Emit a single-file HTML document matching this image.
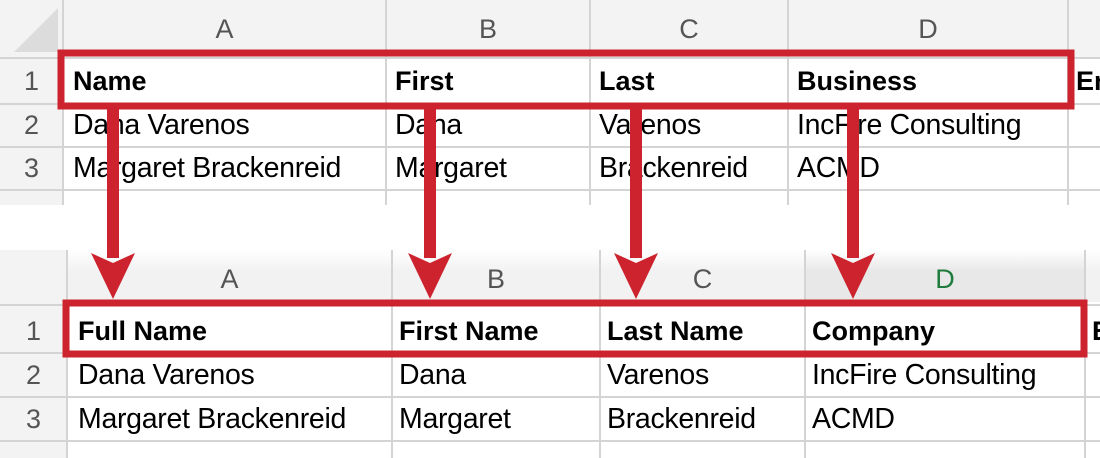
<!DOCTYPE html><html><head><style>
body{margin:0;width:1100px;height:458px;overflow:hidden;background:#fff;font-family:"Liberation Sans",sans-serif;position:relative}
.a{position:absolute}
.t{position:absolute;font-size:28.5px;color:#000;white-space:nowrap;line-height:30px;letter-spacing:-0.3px}
.b{font-weight:bold;font-size:27px;letter-spacing:0}
.h{position:absolute;font-size:27px;color:#555;text-align:center;line-height:30px}
</style></head><body>
<div class="a" style="left:0;top:0;width:1100px;height:58px;background:#f3f3f3"></div>
<div class="a" style="left:0;top:0;width:63px;height:205px;background:#f3f3f3"></div>
<svg class="a" style="left:0;top:0" width="1100" height="458">
<polygon points="14,52 58,52 58,8" fill="#dcdcdc"/>
<g stroke="#d4d4d4" stroke-width="2">
<line x1="63" y1="0" x2="63" y2="205"/><line x1="386" y1="0" x2="386" y2="205"/><line x1="590" y1="0" x2="590" y2="205"/><line x1="788" y1="0" x2="788" y2="205"/><line x1="1068" y1="0" x2="1068" y2="205"/>
<line x1="0" y1="58" x2="1100" y2="58"/><line x1="0" y1="104" x2="1100" y2="104"/><line x1="0" y1="147" x2="1100" y2="147"/><line x1="0" y1="190" x2="1100" y2="190"/>
</g>
</svg>
<div class="h" style="left:63px;top:14px;width:323px">A</div>
<div class="h" style="left:386px;top:14px;width:204px">B</div>
<div class="h" style="left:590px;top:14px;width:198px">C</div>
<div class="h" style="left:788px;top:14px;width:280px">D</div>
<div class="h" style="left:0;top:66px;width:63px">1</div>
<div class="h" style="left:0;top:110px;width:63px">2</div>
<div class="h" style="left:0;top:153px;width:63px">3</div>
<div class="t b" style="left:73px;top:66px">Name</div>
<div class="t b" style="left:395px;top:66px">First</div>
<div class="t b" style="left:599px;top:66px">Last</div>
<div class="t b" style="left:797px;top:66px">Business</div>
<div class="t b" style="left:1076px;top:66px">Er</div>
<div class="t" style="left:73px;top:110px">Dana Varenos</div>
<div class="t" style="left:395px;top:110px">Dana</div>
<div class="t" style="left:599px;top:110px">Varenos</div>
<div class="t" style="left:797px;top:110px">IncFire Consulting</div>
<div class="t" style="left:73px;top:153px">Margaret Brackenreid</div>
<div class="t" style="left:395px;top:153px">Margaret</div>
<div class="t" style="left:599px;top:153px">Brackenreid</div>
<div class="t" style="left:797px;top:153px">ACMD</div>
<div class="a" style="left:0;top:205px;width:1100px;height:253px;background:#fff"></div>
<div class="a" style="left:0;top:250px;width:1100px;height:52px;background:linear-gradient(#fff,#f2f2f2 40%)"></div>
<div class="a" style="left:805px;top:250px;width:280px;height:52px;background:linear-gradient(#fff,#e8e8e8 40%)"></div>
<div class="a" style="left:0;top:250px;width:67px;height:208px;background:#f3f3f3"></div>
<svg class="a" style="left:0;top:0" width="1100" height="458">
<g stroke="#d4d4d4" stroke-width="2">
<line x1="67" y1="250" x2="67" y2="458"/><line x1="392" y1="250" x2="392" y2="458"/><line x1="600" y1="250" x2="600" y2="458"/><line x1="805" y1="250" x2="805" y2="458"/><line x1="1085" y1="250" x2="1085" y2="458"/>
<line x1="0" y1="305" x2="1100" y2="305"/><line x1="0" y1="353" x2="1100" y2="353"/><line x1="0" y1="397" x2="1100" y2="397"/><line x1="0" y1="441" x2="1100" y2="441"/>
</g>
</svg>
<div class="h" style="left:67px;top:264px;width:325px">A</div>
<div class="h" style="left:392px;top:264px;width:208px">B</div>
<div class="h" style="left:600px;top:264px;width:205px">C</div>
<div class="h" style="left:805px;top:264px;width:280px;color:#1e7b3c">D</div>
<div class="h" style="left:0;top:316px;width:67px">1</div>
<div class="h" style="left:0;top:360px;width:67px">2</div>
<div class="h" style="left:0;top:404px;width:67px">3</div>
<div class="t b" style="left:78px;top:316px">Full Name</div>
<div class="t b" style="left:399px;top:316px">First Name</div>
<div class="t b" style="left:607px;top:316px">Last Name</div>
<div class="t b" style="left:812px;top:316px">Company</div>
<div class="t b" style="left:1092px;top:316px">E</div>
<div class="t" style="left:78px;top:360px">Dana Varenos</div>
<div class="t" style="left:399px;top:360px">Dana</div>
<div class="t" style="left:607px;top:360px">Varenos</div>
<div class="t" style="left:812px;top:360px">IncFire Consulting</div>
<div class="t" style="left:78px;top:404px">Margaret Brackenreid</div>
<div class="t" style="left:399px;top:404px">Margaret</div>
<div class="t" style="left:607px;top:404px">Brackenreid</div>
<div class="t" style="left:812px;top:404px">ACMD</div>
<svg class="a" style="left:0;top:0" width="1100" height="458">
<g fill="none" stroke="#cc232e" stroke-width="7">
<rect x="61" y="53" width="1010" height="53"/>
<rect x="66" y="303" width="1018" height="51"/>
</g>
<g fill="#cc232e">
<rect x="107" y="108" width="12" height="150"/><polygon points="91,253 113,263 135,253 113,299"/>
<rect x="424" y="108" width="12" height="150"/><polygon points="408,253 430,263 452,253 430,299"/>
<rect x="630" y="108" width="12" height="150"/><polygon points="614,253 636,263 658,253 636,299"/>
<rect x="847" y="108" width="12" height="150"/><polygon points="831,253 853,263 875,253 853,299"/>
</g>
</svg>
</body></html>
